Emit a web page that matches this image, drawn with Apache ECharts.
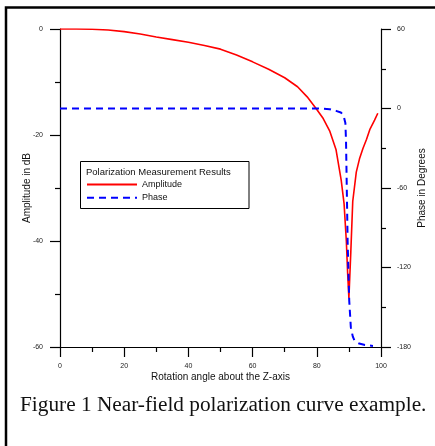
<!DOCTYPE html>
<html>
<head>
<meta charset="utf-8">
<script src="https://cdn.jsdelivr.net/npm/echarts@6/dist/echarts.min.js"></script>
<style>html,body{margin:0;padding:0;background:#fff;}#c{width:435px;height:446px;}</style>
</head>
<body>
<div id="c"></div>
<script>
const ampX = [0,5,10,15,20,25,30,35,40,45,50,55,60,65,70,74,77,80,82,84,86,87.6,88.5,89.2,89.6,90,90.6,91.2,92.3,93.3,94.4,95.5,96.5,98,99];
const ampY = [0,0,-0.05,-0.2,-0.5,-0.95,-1.5,-2,-2.5,-3.1,-3.8,-4.9,-6.2,-7.6,-9.2,-10.9,-12.8,-15.2,-16.9,-19.2,-22.8,-28.5,-33,-40,-46,-50.8,-42,-32.5,-27,-24.5,-22.5,-20.8,-19,-17.2,-15.9];
const phX = [0,20,40,60,75,80,84,86,87.5,88.3,88.9,89.1,89.3,89.6,90.1,90.6,91.2,91.7,92.5,93.2,95,97.5];
const phY = [0,0,0,0,0,0,-0.5,-1.8,-3,-5,-11,-24,-54,-100,-145,-165,-172,-175,-176.5,-177.4,-178.5,-179.2];
const xTicks = [0,20,40,60,80,100];
const ampTicks = [-60,-40,-20,0];
const phTicks = [-180,-120,-60,0,60];

const SANS = 'Arial, "Liberation Sans", sans-serif';
const SERIF = '"Times New Roman", "Liberation Serif", serif';

const chart = echarts.init(document.getElementById('c'), null, {renderer:'canvas'});
const axisCommon = {
  axisLine:{show:true, onZero:false, lineStyle:{color:'#000', width:1.2}},
  axisTick:{show:true, inside:false, length:10, lineStyle:{color:'#000', width:1.2}},
  minorTick:{show:true, splitNumber:2, length:5, lineStyle:{color:'#000', width:1.2}},
  splitLine:{show:false},
  nameMoveOverlap:false,
  nameTextStyle:{fontFamily:SANS, fontSize:10, color:'#111'},
};
chart.setOption({
  animation:false,
  backgroundColor:'#fff',
  grid:{left:60, right:54, top:29, bottom:99, containLabel:false},
  xAxis:Object.assign({}, axisCommon, {
    type:'value', min:xTicks[0], max:xTicks[xTicks.length-1], interval:20,
    name:'Rotation angle about the Z-axis', nameLocation:'middle', nameGap:25,
    axisLabel:{fontFamily:SANS, fontSize:7, color:'#222', margin:16}
  }),
  yAxis:[
    Object.assign({}, axisCommon, {
      type:'value', min:ampTicks[0], max:ampTicks[ampTicks.length-1], interval:20, position:'left',
      name:'Amplitude in dB', nameLocation:'middle', nameGap:28, nameRotate:90,
      axisLabel:{fontFamily:SANS, fontSize:7, color:'#222', margin:17}
    }),
    Object.assign({}, axisCommon, {
      type:'value', min:phTicks[0], max:phTicks[phTicks.length-1], interval:60, position:'right',
      name:'Phase in Degrees', nameLocation:'middle', nameGap:36, nameRotate:90,
      axisLabel:{fontFamily:SANS, fontSize:7, color:'#222', margin:16}
    })
  ],
  legend:{
    orient:'vertical', left:86, top:180, padding:0, itemWidth:50, itemHeight:10, itemGap:4.2,
    itemStyle:{opacity:0, borderWidth:0},
    textStyle:{fontFamily:SANS, fontSize:9, color:'#111'},
    data:['Amplitude','Phase']
  },
  series:[
    {name:'Amplitude', type:'line', yAxisIndex:0, showSymbol:false, symbol:'none',
     lineStyle:{color:'#ff0000', width:1.6}, itemStyle:{color:'#ff0000'},
     data:ampX.map((x,i)=>[x, ampY[i]])},
    {name:'Phase', type:'line', yAxisIndex:1, showSymbol:false, symbol:'none', z:3,
     lineStyle:{color:'#0000ff', width:2, type:[7,5]}, itemStyle:{color:'#0000ff'},
     data:phX.map((x,i)=>[x, phY[i]])}
  ],
  graphic:[
    {type:'rect', shape:{x:6, y:7.5, width:500, height:500}, style:{fill:'none', stroke:'#000', lineWidth:2.5}, silent:true},
    {type:'rect', shape:{x:80.5, y:161.5, width:168.5, height:47}, style:{fill:'#fff', stroke:'#000', lineWidth:1}, z:0},
    {type:'text', left:86, top:167, style:{text:'Polarization Measurement Results', font:'9.5px '+SERIF.replace(/.*/, SANS), fill:'#111'}},
    {type:'text', left:20, top:395, style:{text:'Figure 1 Near-field polarization curve example.', font:'21.3px '+SERIF, fill:'#111'}}
  ]
});
</script>
</body>
</html>
